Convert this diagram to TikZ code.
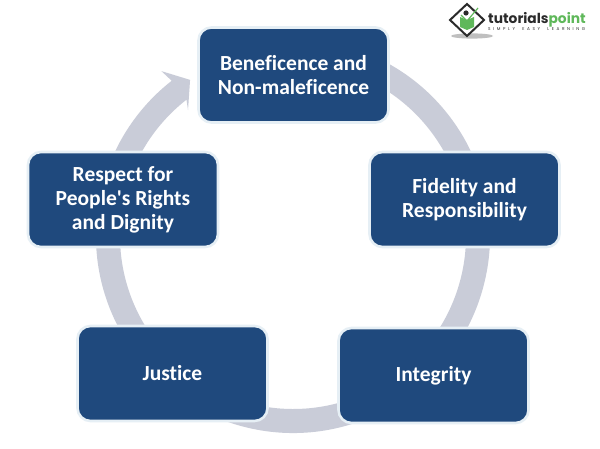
\documentclass[tikz,border=0pt]{standalone}
\usepackage{fontspec}
\newfontfamily\cardfont{Carlito}[Ligatures=NoCommon]
\newfontfamily\logofont{Poppins}
\definecolor{boxblue}{HTML}{1F497D}
\definecolor{boxedge}{HTML}{E6EFF5}
\definecolor{ringgrey}{HTML}{C9CCD8}
\definecolor{logogreen}{HTML}{5FB85A}
\definecolor{logodark}{HTML}{2B2B2B}
\tikzset{
  card/.style={draw=boxedge,line width=2.6pt,fill=boxblue,rounded corners=13pt,
    minimum width=190pt,minimum height=95pt,inner sep=0pt,text=white,align=center,
    font=\cardfont\fontsize{21.5pt}{24pt}\selectfont\bfseries}
}
\begin{document}
\begin{tikzpicture}[x=1pt,y=-1pt]
\useasboundingbox (0,0) rectangle (600,449);
\fill[white] (0,0) rectangle (600,449);
% ring centre (293,236), radii 173 and 197, with arrowhead at the upper left
\begin{scope}[shift={(293,236)},y=1pt]
\fill[ringgrey] (75:197) arc[start angle=75,end angle=-232,radius=197]
  -- (128.6:211) -- (123.4:187) -- (129.8:164) -- (128:173)
  arc[start angle=128,end angle=435,radius=173] -- cycle;
\end{scope}
\node[card] (top) at (293.5,75) {Beneficence and\\Non-maleficence};
\node[card] (fidelity) at (464.5,199.5) {Fidelity and\\Responsibility};
\node[card] (integrity) at (433.5,375.5) {Integrity};
\node[card] (justice) at (172.5,373.5) {Justice};
\node[card] (respect) at (123,199.5) {Respect for\\People's Rights\\and Dignity};
% logo
\fill[black!25] (472,36) ellipse[x radius=21pt,y radius=2.6pt];
\draw[logodark,line width=2pt,fill=white] (467,4) -- (484,20) -- (467,36) -- (450,20) -- cycle;
\fill[logogreen] (460,17) -- (467,20) -- (474,17) -- (474,27) -- (467,30) -- (460,27) -- cycle;
\fill[logodark] (466,13) circle[radius=2.6pt];
\draw[logogreen,line width=1.2pt] (461,15) -- (467,21) -- (478,8);
\node[inner sep=0pt,anchor=west,text=logodark,font=\logofont\fontsize{13.8pt}{15pt}\selectfont\bfseries] (logoname) at (488,19.5) {tutorials\textcolor{logogreen}{point}};
\node[inner sep=0pt,anchor=west,text=logodark,font=\logofont\fontsize{4.2pt}{5pt}\selectfont,text width=97pt,align=justify] (logotag) at (488,29.5) {\addfontfeature{LetterSpace=62}SIMPLY\ \ EASY\ \ LEARNING};
\end{tikzpicture}
\end{document}
